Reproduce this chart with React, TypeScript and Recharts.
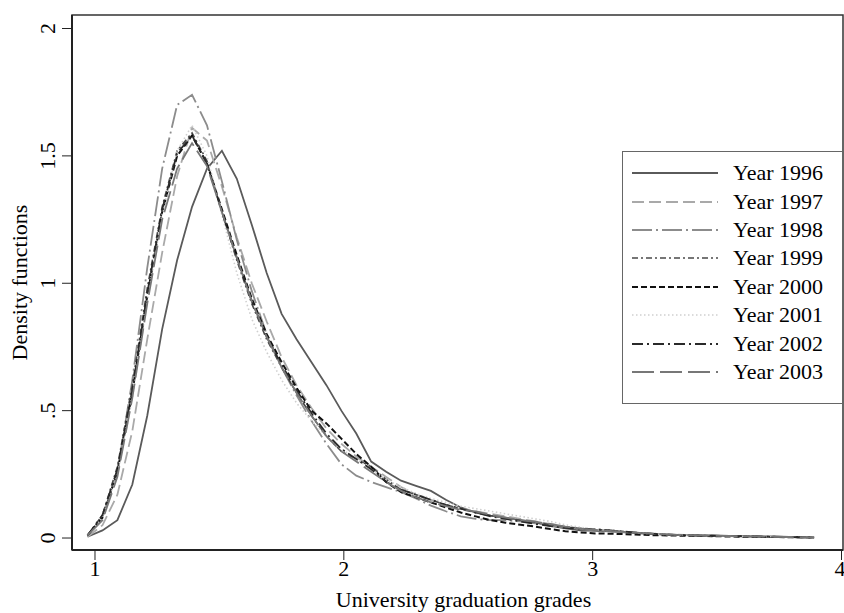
import { LineChart, Line, XAxis, YAxis, Legend, ReferenceArea } from 'recharts';

const FONT = '"Liberation Serif", "Times New Roman", serif';

// grade grid (kdensity evaluation points)
const GRADES = [
  0.97, 1.03, 1.09, 1.15, 1.21, 1.27, 1.33, 1.39, 1.45, 1.51,
  1.57, 1.63, 1.69, 1.75, 1.81, 1.87, 1.93, 1.99, 2.05, 2.11,
  2.17, 2.23, 2.29, 2.35, 2.41, 2.47, 2.53, 2.59, 2.65, 2.71,
  2.77, 2.83, 2.89, 2.95, 3.01, 3.07, 3.13, 3.19, 3.25, 3.31,
  3.37, 3.43, 3.49, 3.55, 3.61, 3.67, 3.73, 3.79, 3.85, 3.89,
];

const Y1996 = [
  0.005, 0.03, 0.07, 0.21, 0.48, 0.82, 1.09, 1.3, 1.45, 1.52,
  1.41, 1.23, 1.04, 0.88, 0.78, 0.69, 0.6, 0.5, 0.41, 0.3,
  0.26, 0.225, 0.205, 0.185, 0.15, 0.12, 0.1, 0.088, 0.08, 0.07,
  0.06, 0.048, 0.038, 0.03, 0.028, 0.026, 0.022, 0.018, 0.015, 0.012,
  0.011, 0.01, 0.009, 0.008, 0.007, 0.006, 0.005, 0.004, 0.003, 0.002,
];
const Y1997 = [
  0.005, 0.05, 0.17, 0.42, 0.78, 1.12, 1.42, 1.61, 1.56, 1.38,
  1.18, 1.0, 0.85, 0.71, 0.6, 0.51, 0.43, 0.37, 0.32, 0.28,
  0.24, 0.2, 0.17, 0.15, 0.13, 0.115, 0.105, 0.095, 0.085, 0.075,
  0.065, 0.055, 0.045, 0.038, 0.032, 0.028, 0.024, 0.02, 0.017, 0.014,
  0.012, 0.01, 0.009, 0.008, 0.007, 0.006, 0.005, 0.004, 0.003, 0.002,
];
const Y1998 = [
  0.01, 0.08, 0.26, 0.62, 1.06, 1.45, 1.7, 1.74, 1.62, 1.4,
  1.17, 0.97, 0.8, 0.67, 0.56, 0.46, 0.37, 0.29, 0.245, 0.22,
  0.2, 0.18, 0.155, 0.127, 0.105, 0.085, 0.075, 0.07, 0.07, 0.065,
  0.058, 0.05, 0.042, 0.035, 0.03, 0.027, 0.023, 0.019, 0.016, 0.013,
  0.011, 0.01, 0.009, 0.008, 0.007, 0.006, 0.005, 0.004, 0.003, 0.002,
];
const Y1999 = [
  0.01, 0.09, 0.28, 0.6, 0.98, 1.3, 1.52, 1.59, 1.48, 1.28,
  1.09, 0.92, 0.78, 0.67, 0.57, 0.48, 0.4, 0.34, 0.31, 0.28,
  0.23, 0.19, 0.17, 0.15, 0.13, 0.115, 0.1, 0.088, 0.078, 0.07,
  0.062, 0.052, 0.044, 0.038, 0.034, 0.03, 0.025, 0.02, 0.016, 0.013,
  0.011, 0.01, 0.009, 0.008, 0.007, 0.006, 0.005, 0.004, 0.003, 0.002,
];
const Y2000 = [
  0.01, 0.08, 0.26, 0.57, 0.95, 1.28, 1.5, 1.58, 1.47, 1.29,
  1.11, 0.94, 0.8, 0.69, 0.59, 0.5, 0.45, 0.39, 0.33, 0.28,
  0.22, 0.18, 0.16, 0.14, 0.12, 0.1, 0.085, 0.07, 0.06, 0.052,
  0.045, 0.035, 0.027, 0.022, 0.018, 0.017, 0.015, 0.013, 0.011, 0.01,
  0.009, 0.008, 0.007, 0.006, 0.005, 0.004, 0.004, 0.003, 0.003, 0.002,
];
const Y2001 = [
  0.01, 0.08, 0.25, 0.55, 0.93, 1.27, 1.52, 1.62, 1.5, 1.27,
  1.04, 0.86, 0.73, 0.62, 0.53, 0.46, 0.4, 0.35, 0.31, 0.27,
  0.23, 0.2, 0.175, 0.155, 0.14, 0.125, 0.115, 0.105, 0.095, 0.085,
  0.075, 0.065, 0.052, 0.042, 0.035, 0.03, 0.025, 0.02, 0.016, 0.013,
  0.011, 0.01, 0.009, 0.008, 0.007, 0.006, 0.005, 0.004, 0.003, 0.002,
];
const Y2002 = [
  0.01, 0.09, 0.27, 0.58, 0.96, 1.29, 1.51, 1.58, 1.47, 1.28,
  1.1, 0.93, 0.79, 0.68, 0.58, 0.49, 0.41, 0.35, 0.31, 0.27,
  0.22, 0.19, 0.17, 0.15, 0.13, 0.115, 0.1, 0.085, 0.075, 0.065,
  0.055, 0.047, 0.04, 0.036, 0.034, 0.03, 0.025, 0.02, 0.016, 0.013,
  0.011, 0.01, 0.009, 0.008, 0.007, 0.006, 0.005, 0.004, 0.003, 0.002,
];
const Y2003 = [
  0.01, 0.07, 0.24, 0.55, 0.92, 1.25, 1.45, 1.55, 1.46, 1.28,
  1.1, 0.93, 0.79, 0.67, 0.57, 0.48, 0.4, 0.34, 0.3, 0.26,
  0.22, 0.185, 0.16, 0.14, 0.125, 0.11, 0.105, 0.09, 0.08, 0.07,
  0.064, 0.055, 0.045, 0.037, 0.032, 0.028, 0.024, 0.02, 0.016, 0.013,
  0.011, 0.01, 0.009, 0.008, 0.007, 0.006, 0.005, 0.004, 0.003, 0.002,
];

const YEARS = ['1996', '1997', '1998', '1999', '2000', '2001', '2002', '2003'];
const SERIES = [Y1996, Y1997, Y1998, Y1999, Y2000, Y2001, Y2002, Y2003];

const X_TICKS = [1, 2, 3, 4];
const Y_TICKS = [0, 0.5, 1, 1.5, 2];
const Y_TICK_LABELS = ['0', '.5', '1', '1.5', '2'];

const X_DOMAIN: [number, number] = [0.9076, 4.006];
const Y_DOMAIN: [number, number] = [-0.047, 2.053];

// line look per year (Stata s2mono-ish)
const STYLES: Record<string, { color: string; dash?: string; width: number }> = {
  '1996': { color: '#5a5a5a', width: 1.8 },
  '1997': { color: '#a9a9a9', dash: '12 5', width: 1.8 },
  '1998': { color: '#8c8c8c', dash: '20 4 2 4', width: 1.8 },
  '1999': { color: '#4a4a4a', dash: '6 3 2 3', width: 1.6 },
  '2000': { color: '#111111', dash: '6 3', width: 2 },
  '2001': { color: '#cfcfcf', dash: '1.5 2.5', width: 1.6 },
  '2002': { color: '#2a2a2a', dash: '11 4 2 4', width: 1.8 },
  '2003': { color: '#777777', dash: '22 6', width: 1.8 },
};

const rows = GRADES.map((grade, i) => {
  const row: Record<string, number> = { grade };
  YEARS.forEach((year, s) => {
    row[`y${year}`] = SERIES[s][i];
  });
  return row;
});

const XTick = ({ x, y, payload }: any) => (
  <text x={x} y={y + 14} textAnchor="middle" fontFamily={FONT} fontSize={22} fill="#000">
    {payload.value}
  </text>
);

const YTick = ({ x, y, payload }: any) => {
  const idx = Y_TICKS.indexOf(payload.value);
  const label = idx >= 0 ? Y_TICK_LABELS[idx] : String(payload.value);
  const bx = x - 5;
  return (
    <text
      x={bx}
      y={y}
      transform={`rotate(-90, ${bx}, ${y})`}
      textAnchor="middle"
      fontFamily={FONT}
      fontSize={22}
      fill="#000"
    >
      {label}
    </text>
  );
};

const XLabel = ({ viewBox }: any) => {
  if (!viewBox) return null;
  return (
    <text
      x={viewBox.x + viewBox.width / 2 + 6}
      y={viewBox.y + 57}
      textAnchor="middle"
      fontFamily={FONT}
      fontSize={22}
      fill="#000"
    >
      University graduation grades
    </text>
  );
};

const YLabel = ({ viewBox }: any) => {
  if (!viewBox) return null;
  const cy = viewBox.y + viewBox.height / 2;
  return (
    <text
      x={27}
      y={cy}
      transform={`rotate(-90, 27, ${cy})`}
      textAnchor="middle"
      fontFamily={FONT}
      fontSize={22}
      fill="#000"
    >
      Density functions
    </text>
  );
};

const LegendBox = () => (
  <div
    style={{
      width: 221,
      height: 253,
      boxSizing: 'border-box',
      border: '1px solid #666',
      background: '#fff',
      paddingTop: 7,
      fontFamily: FONT,
      fontSize: 22,
      color: '#000',
    }}
  >
    {YEARS.map((year) => {
      const st = STYLES[year];
      return (
        <div key={year} style={{ height: 28.4, display: 'flex', alignItems: 'center' }}>
          <svg width={86} height={10} style={{ marginLeft: 9, marginRight: 15 }}>
            <line
              x1={0}
              y1={5}
              x2={86}
              y2={5}
              stroke={st.color}
              strokeWidth={st.width}
              strokeDasharray={st.dash}
            />
          </svg>
          <span style={{ lineHeight: '28px' }}>Year {year}</span>
        </div>
      );
    })}
  </div>
);

export default function App() {
  return (
    <div style={{ position: 'absolute', left: 0, top: 0, width: 844, height: 613, background: '#fff' }}>
      <LineChart width={844} height={613} data={rows} margin={{ top: 15, right: 1, left: 0, bottom: 0 }}>
        <XAxis
          dataKey="grade"
          type="number"
          domain={X_DOMAIN}
          ticks={X_TICKS}
          allowDataOverflow
          height={63}
          tickSize={10}
          tick={<XTick />}
          axisLine={{ stroke: '#222', strokeWidth: 2 }}
          tickLine={{ stroke: '#222' }}
          label={<XLabel />}
        />
        <YAxis
          type="number"
          domain={Y_DOMAIN}
          ticks={Y_TICKS}
          allowDataOverflow
          width={72}
          tickSize={10}
          tick={<YTick />}
          axisLine={{ stroke: '#222', strokeWidth: 2 }}
          tickLine={{ stroke: '#222' }}
          label={<YLabel />}
        />
        <ReferenceArea
          x1={X_DOMAIN[0]}
          x2={X_DOMAIN[1]}
          y1={Y_DOMAIN[0]}
          y2={Y_DOMAIN[1]}
          fill="none"
          stroke="#333"
          strokeWidth={1.5}
          ifOverflow="visible"
        />
        {YEARS.map((year) => {
          const st = STYLES[year];
          return (
            <Line
              key={year}
              type="linear"
              dataKey={`y${year}`}
              name={`Year ${year}`}
              stroke={st.color}
              strokeWidth={st.width}
              strokeDasharray={st.dash}
              dot={false}
              activeDot={false}
              isAnimationActive={false}
            />
          );
        })}
        <Legend
          layout="vertical"
          align="center"
          verticalAlign="middle"
          content={<LegendBox />}
          wrapperStyle={{ left: 622, top: 151, width: 221, height: 253 }}
        />
      </LineChart>
    </div>
  );
}
